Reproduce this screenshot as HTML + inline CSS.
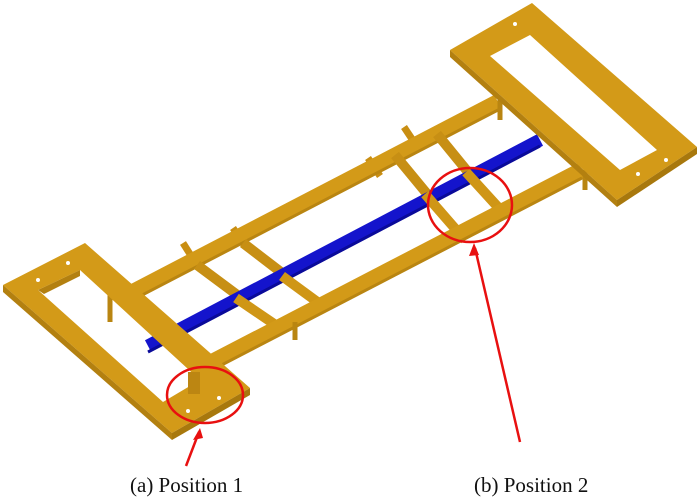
<!DOCTYPE html>
<html><head><meta charset="utf-8"><style>
html,body{margin:0;padding:0;background:#fff;}
svg{display:block}
text{font-family:"Liberation Serif",serif;font-size:21px;fill:#111}
</style></head><body>
<svg width="700" height="503" viewBox="0 0 700 503" xmlns="http://www.w3.org/2000/svg">
<g stroke-linecap="butt" fill="none">
<!-- stubs above upper rail -->
<g stroke="#C98E12" stroke-width="7">
<line x1="183" y1="243" x2="195" y2="262"/>
<line x1="233" y1="228" x2="245" y2="246"/>
<line x1="368" y1="158" x2="380" y2="176"/>
<line x1="404" y1="127" x2="416" y2="145"/>
</g>
<!-- upper rail -->
<line x1="125" y1="296" x2="498" y2="102" stroke="#D39A18" stroke-width="16"/>
<line x1="125" y1="304" x2="498" y2="110" stroke="#B98511" stroke-width="3"/>
<!-- cross members back -->
<g stroke="#C78F14" stroke-width="10">
<line x1="197" y1="265" x2="240" y2="297"/>
<line x1="243" y1="243" x2="286" y2="276"/>
<line x1="395" y1="155" x2="428" y2="195"/>
<line x1="437" y1="134" x2="468" y2="172"/>
</g>
<!-- blue bar -->
<line x1="148" y1="346" x2="540" y2="140" stroke="#1414CC" stroke-width="13"/>
<line x1="148" y1="352" x2="540" y2="146" stroke="#0A0A99" stroke-width="3"/>
<!-- cross members front -->
<g stroke="#CF9616" stroke-width="10">
<line x1="236" y1="298" x2="283" y2="330"/>
<line x1="282" y1="276" x2="327" y2="309"/>
<line x1="425" y1="194" x2="465" y2="240"/>
<line x1="466" y1="172" x2="507" y2="217"/>
</g>
<!-- lower rail -->
<line x1="212" y1="362" x2="582" y2="170" stroke="#D39A18" stroke-width="16"/>
<line x1="212" y1="370" x2="582" y2="178" stroke="#B98511" stroke-width="3"/>
<!-- verticals under rails -->
<g stroke="#B98511" stroke-width="5">
<line x1="110" y1="292" x2="110" y2="322"/>
<line x1="295" y1="322" x2="295" y2="340"/>
<line x1="500" y1="100" x2="500" y2="120"/>
<line x1="585" y1="170" x2="585" y2="190"/>
</g>
</g>
<!-- left frame -->
<path d="M3,285 L85,243 L250,388 L172,433 Z M38,290 L80,270 L200,380 L163,402 Z" fill="#D39A18" fill-rule="evenodd"/>
<path d="M3,285 L172,433 L172,440 L3,292 Z" fill="#B38010"/>
<path d="M172,433 L250,388 L250,395 L172,440 Z" fill="#A8780D"/>
<path d="M38,290 L80,270 L80,276 L44,294Z" fill="#B38010"/>
<circle cx="68" cy="263" r="2" fill="#fff"/><circle cx="38" cy="280" r="2" fill="#fff"/>
<circle cx="188" cy="411" r="2" fill="#fff"/><circle cx="219" cy="398" r="2" fill="#fff"/>
<rect x="188" y="372" width="12" height="22" fill="#BC8612"/>
<!-- right frame -->
<path d="M450,50 L532,3 L697,147 L617,200 Z M490,56 L530,35 L657,150 L620,170 Z" fill="#D39A18" fill-rule="evenodd"/>
<path d="M450,50 L617,200 L617,207 L450,57 Z" fill="#B38010"/>
<path d="M617,200 L697,147 L697,154 L617,207 Z" fill="#A8780D"/>
<circle cx="486" cy="26" r="2" fill="#fff"/><circle cx="515" cy="24" r="2" fill="#fff"/>
<circle cx="638" cy="174" r="2" fill="#fff"/><circle cx="666" cy="160" r="2" fill="#fff"/>
<!-- red annotations -->
<g stroke="#E81010" stroke-width="2.5" fill="none">
<ellipse cx="205" cy="395" rx="38" ry="28"/>
<ellipse cx="470" cy="205" rx="42" ry="37"/>
<line x1="186" y1="466" x2="199" y2="432"/>
<line x1="520" y1="442" x2="475" y2="248"/>
</g>
<path d="M200,428 L193,440 L203,438 Z" fill="#E81010"/>
<path d="M474,243 L469,256 L479,255 Z" fill="#E81010"/>
<text x="130" y="492">(a) Position 1</text>
<text x="474" y="492">(b) Position 2</text>
</svg>
</body></html>
